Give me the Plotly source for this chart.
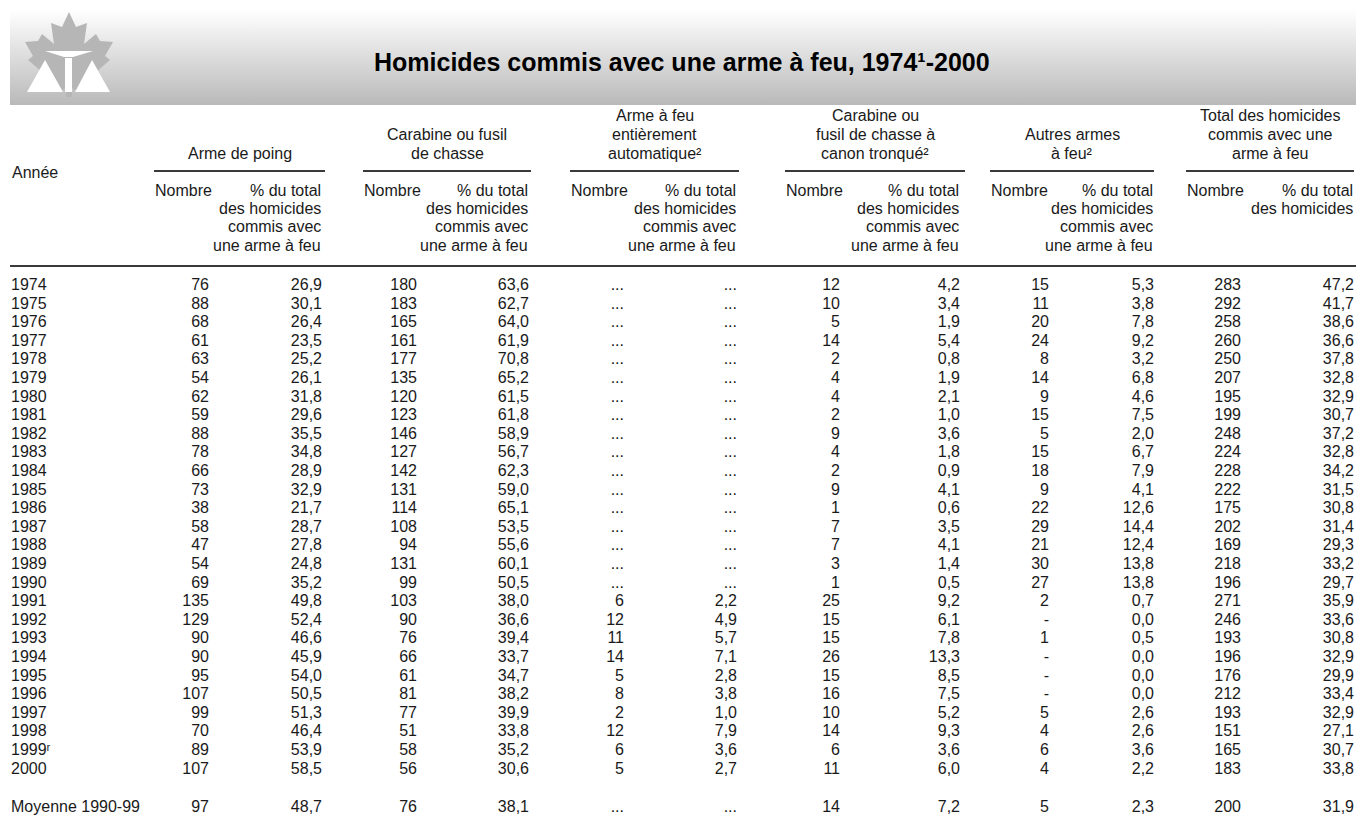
import plotly.graph_objects as go

# ---------------- data ----------------
years = ["1974", "1975", "1976", "1977", "1978", "1979", "1980", "1981", "1982",
         "1983", "1984", "1985", "1986", "1987", "1988", "1989", "1990", "1991",
         "1992", "1993", "1994", "1995", "1996", "1997", "1998", "1999ʳ", "2000"]
avg_label = "Moyenne 1990-99"

poing_n = [76, 88, 68, 61, 63, 54, 62, 59, 88, 78, 66, 73, 38, 58, 47, 54, 69, 135,
           129, 90, 90, 95, 107, 99, 70, 89, 107]
poing_pct = [26.9, 30.1, 26.4, 23.5, 25.2, 26.1, 31.8, 29.6, 35.5, 34.8, 28.9, 32.9,
             21.7, 28.7, 27.8, 24.8, 35.2, 49.8, 52.4, 46.6, 45.9, 54.0, 50.5, 51.3,
             46.4, 53.9, 58.5]
carab_n = [180, 183, 165, 161, 177, 135, 120, 123, 146, 127, 142, 131, 114, 108, 94,
           131, 99, 103, 90, 76, 66, 61, 81, 77, 51, 58, 56]
carab_pct = [63.6, 62.7, 64.0, 61.9, 70.8, 65.2, 61.5, 61.8, 58.9, 56.7, 62.3, 59.0,
             65.1, 53.5, 55.6, 60.1, 50.5, 38.0, 36.6, 39.4, 33.7, 34.7, 38.2, 39.9,
             33.8, 35.2, 30.6]
auto_n = [None] * 17 + [6, 12, 11, 14, 5, 8, 2, 12, 6, 5]
auto_pct = [None] * 17 + [2.2, 4.9, 5.7, 7.1, 2.8, 3.8, 1.0, 7.9, 3.6, 2.7]
tronq_n = [12, 10, 5, 14, 2, 4, 4, 2, 9, 4, 2, 9, 1, 7, 7, 3, 1, 25, 15, 15, 26, 15,
           16, 10, 14, 6, 11]
tronq_pct = [4.2, 3.4, 1.9, 5.4, 0.8, 1.9, 2.1, 1.0, 3.6, 1.8, 0.9, 4.1, 0.6, 3.5,
             4.1, 1.4, 0.5, 9.2, 6.1, 7.8, 13.3, 8.5, 7.5, 5.2, 9.3, 3.6, 6.0]
autres_n = [15, 11, 20, 24, 8, 14, 9, 15, 5, 15, 18, 9, 22, 29, 21, 30, 27, 2, 0, 1,
            0, 0, 0, 5, 4, 6, 4]
autres_pct = [5.3, 3.8, 7.8, 9.2, 3.2, 6.8, 4.6, 7.5, 2.0, 6.7, 7.9, 4.1, 12.6, 14.4,
              12.4, 13.8, 13.8, 0.7, 0.0, 0.5, 0.0, 0.0, 0.0, 2.6, 2.6, 3.6, 2.2]
total_n = [283, 292, 258, 260, 250, 207, 195, 199, 248, 224, 228, 222, 175, 202, 169,
           218, 196, 271, 246, 193, 196, 176, 212, 193, 151, 165, 183]
total_pct = [47.2, 41.7, 38.6, 36.6, 37.8, 32.8, 32.9, 30.7, 37.2, 32.8, 34.2, 31.5,
             30.8, 31.4, 29.3, 33.2, 29.7, 35.9, 33.6, 30.8, 32.9, 29.9, 33.4, 32.9,
             27.1, 30.7, 33.8]

# Moyenne 1990-99 row
avg_n = [97, 76, None, 14, 5, 200]
avg_pct = [48.7, 38.1, None, 7.2, 2.3, 31.9]

group_titles = [
    ["Arme de poing"],
    ["Carabine ou fusil", "de chasse"],
    ["Arme à feu", "entièrement", "automatique²"],
    ["Carabine ou", "fusil de chasse à", "canon tronqué²"],
    ["Autres armes", "à feu²"],
    ["Total des homicides", "commis avec une", "arme à feu"],
]
pct_header = ["% du total", "des homicides", "commis avec", "une arme à feu"]
pct_header_total = ["% du total", "des homicides"]
title = "Homicides commis avec une arme à feu, 1974¹-2000"

# ---------------- layout constants ----------------
W, H = 1356, 820
FONT = "Liberation Sans, Arial, Helvetica, sans-serif"
FS = 16
TXT = "#1a1a1a"
RULE = "#3a3a3a"

g_start = [154, 363, 570, 785, 990, 1186]
g_end = [325, 531, 739, 965, 1154, 1354]
n_right = [209, 417, 624, 840, 1049, 1241]
p_right = [322, 529, 737, 960, 1154, 1354]

row0, step = 286, 18.6
row_y = [row0 + step * i for i in range(len(years))]
avg_y = 808


def fmt_n(v):
    if v is None:
        return "..."
    if v == 0:
        return "-"
    return str(v)


def fmt_p(v):
    if v is None:
        return "..."
    return f"{v:.1f}".replace(".", ",")


fig = go.Figure()

# header gradient band
fig.add_trace(go.Scatter(
    x=[10, W, W, 10, 10], y=[10, 10, 105, 105, 10], mode="lines",
    fill="toself", line=dict(width=0),
    fillgradient=dict(type="vertical", colorscale=[[0, "#ffffff"], [1, "#b9b9b9"]],
                      start=10, stop=105),
    hoverinfo="skip", showlegend=False))

# data columns
cols_n = [poing_n, carab_n, auto_n, tronq_n, autres_n, total_n]
cols_p = [poing_pct, carab_pct, auto_pct, tronq_pct, autres_pct, total_pct]
all_y = row_y + [avg_y]

fig.add_trace(go.Scatter(
    x=[11] * (len(years) + 1), y=all_y, text=years + [avg_label], mode="text",
    textposition="middle right", textfont=dict(family=FONT, size=FS, color=TXT),
    hoverinfo="skip", showlegend=False))

for g in range(6):
    ns = [fmt_n(v) for v in cols_n[g]] + [fmt_n(avg_n[g])]
    ps = [fmt_p(v) for v in cols_p[g]] + [fmt_p(avg_pct[g])]
    fig.add_trace(go.Scatter(
        x=[n_right[g]] * len(ns), y=all_y, text=ns, mode="text",
        textposition="middle left", textfont=dict(family=FONT, size=FS, color=TXT),
        hoverinfo="skip", showlegend=False))
    fig.add_trace(go.Scatter(
        x=[p_right[g]] * len(ps), y=all_y, text=ps, mode="text",
        textposition="middle left", textfont=dict(family=FONT, size=FS, color=TXT),
        hoverinfo="skip", showlegend=False))

annotations = []


def txt(x, y, s, xa, size=FS, family=FONT, bold=False):
    annotations.append(dict(
        x=x, y=y, xref="x", yref="y", text=(f"<b>{s}</b>" if bold else s),
        showarrow=False, xanchor=xa, yanchor="middle", borderpad=0,
        font=dict(family=family, size=size, color="#000000" if bold else TXT)))


txt(682, 62, title, "center", size=25, bold=True)
txt(11, 172, "Année", "left")

head_lines = [115, 134, 153]
sub_lines = [190, 208.3, 226.6, 245]
shapes = []
for g in range(6):
    lines = group_titles[g]
    cx = (g_start[g] + g_end[g]) / 2
    for k, s in enumerate(lines):
        txt(cx, head_lines[3 - len(lines) + k], s, "center")
    shapes.append(dict(type="line", xref="x", yref="y", x0=g_start[g], x1=g_end[g],
                       y0=171, y1=171, line=dict(color=RULE, width=2)))
    txt(g_start[g], sub_lines[0], "Nombre", "left")
    ph = pct_header_total if g == 5 else pct_header
    for k, s in enumerate(ph):
        txt(p_right[g], sub_lines[k], s, "right")

shapes.append(dict(type="line", xref="x", yref="y", x0=10, x1=W, y0=266, y1=266,
                   line=dict(color=RULE, width=2)))

# logo (maple leaf with scales)
leaf = ("M69,12 L76,27 L87,23 L84,44 L96,34 L100,41 L113,42 L105,56 L110,60 "
        "L96,72 L99,82 L82,80 L80,92 L72,88 L72,97 L66,97 L66,88 L58,92 L56,80 "
        "L39,82 L42,72 L28,60 L33,56 L25,42 L38,41 L42,34 L54,44 L51,23 L62,27 Z")
shapes.append(dict(type="path", xref="x", yref="y", path=leaf, fillcolor="#b6b6b6",
                   line=dict(width=0), layer="above"))
for p in ["M45,51 L93,51 L73,57 L64,57 Z",
          "M65,58 L72,58 L72,92 L65,92 Z",
          "M45,60 L27,92 L63,92 Z",
          "M92,60 L75,92 L110,92 Z"]:
    shapes.append(dict(type="path", xref="x", yref="y", path=p, fillcolor="#ffffff",
                       line=dict(width=0), layer="above"))

fig.update_layout(
    width=W, height=H, margin=dict(l=0, r=0, t=0, b=0),
    paper_bgcolor="white", plot_bgcolor="white",
    xaxis=dict(range=[0, W], visible=False, fixedrange=True),
    yaxis=dict(range=[H, 0], visible=False, fixedrange=True),
    annotations=annotations, shapes=shapes, showlegend=False,
)

fig.write_html("out.html", config={"displayModeBar": False, "staticPlot": True},
               post_script="document.body.style.margin='0';document.body.style.overflow='hidden';")
